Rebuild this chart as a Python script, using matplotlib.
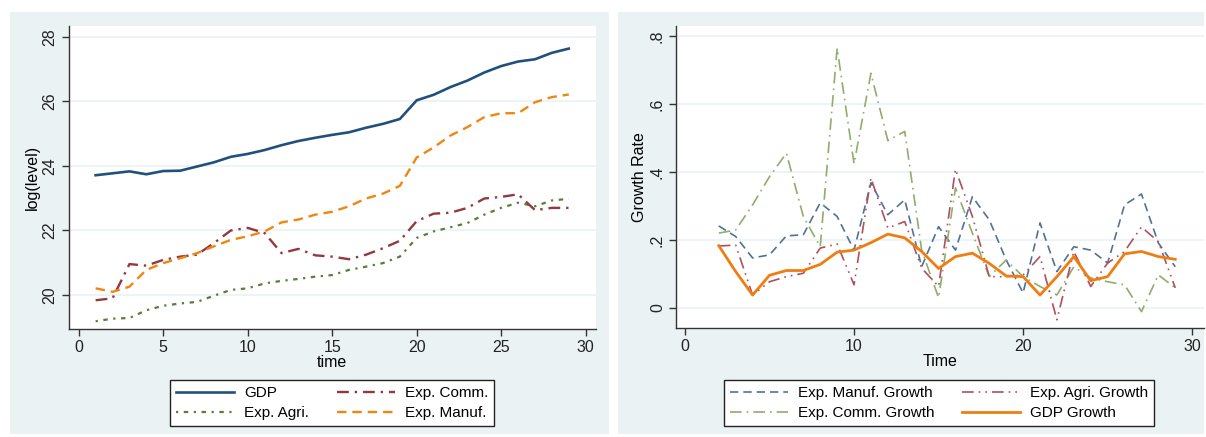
import matplotlib
matplotlib.use("Agg")
import matplotlib.pyplot as plt
from matplotlib.patches import Rectangle

plt.rcParams['font.family'] = ['Liberation Sans', 'DejaVu Sans']

# --- data: levels (left panel) ---
t_lvl = list(range(1, 30))
gdp = [23.71, 23.77, 23.83, 23.74, 23.84, 23.85, 23.98, 24.11, 24.28, 24.37,
       24.49, 24.64, 24.77, 24.87, 24.96, 25.04, 25.18, 25.30, 25.45, 26.03,
       26.20, 26.44, 26.64, 26.89, 27.09, 27.23, 27.30, 27.50, 27.63]
exp_comm = [19.84, 19.90, 20.96, 20.91, 21.09, 21.19, 21.25, 21.61, 22.00, 22.08,
            21.92, 21.30, 21.43, 21.23, 21.19, 21.11, 21.25, 21.45, 21.68, 22.29,
            22.52, 22.55, 22.70, 22.99, 23.04, 23.12, 22.63, 22.70, 22.70]
exp_agri = [19.19, 19.27, 19.29, 19.53, 19.67, 19.74, 19.79, 19.98, 20.16, 20.21,
            20.36, 20.44, 20.50, 20.57, 20.62, 20.78, 20.88, 20.99, 21.19, 21.77,
            21.97, 22.10, 22.23, 22.49, 22.70, 22.86, 22.75, 22.93, 22.98]
exp_manuf = [20.21, 20.10, 20.26, 20.78, 20.99, 21.14, 21.30, 21.51, 21.71, 21.82,
             21.97, 22.25, 22.34, 22.49, 22.58, 22.75, 22.99, 23.14, 23.38, 24.26,
             24.57, 24.94, 25.20, 25.51, 25.63, 25.63, 25.97, 26.13, 26.21]

# --- data: growth rates (right panel) ---
t_gr = list(range(2, 30))
g_manuf = [0.241, 0.210, 0.147, 0.156, 0.212, 0.215, 0.309, 0.269, 0.170, 0.368,
           0.274, 0.318, 0.121, 0.239, 0.170, 0.327, 0.259, 0.141, 0.044, 0.250,
           0.107, 0.180, 0.170, 0.132, 0.303, 0.335, 0.191, 0.121]
g_agri = [0.182, 0.185, 0.038, 0.077, 0.092, 0.102, 0.176, 0.188, 0.068, 0.382,
          0.235, 0.254, 0.117, 0.063, 0.408, 0.269, 0.092, 0.092, 0.097, 0.151,
          -0.035, 0.166, 0.063, 0.132, 0.166, 0.238, 0.195, 0.059]
g_comm = [0.220, 0.229, 0.303, 0.386, 0.455, 0.269, 0.180, 0.764, 0.424, 0.690,
          0.492, 0.519, 0.170, 0.030, 0.353, 0.220, 0.092, 0.141, 0.092, 0.063,
          0.038, 0.121, 0.088, 0.077, 0.068, -0.011, 0.097, 0.059]
g_gdp = [0.183, 0.107, 0.038, 0.096, 0.110, 0.110, 0.128, 0.164, 0.170, 0.192,
         0.217, 0.206, 0.166, 0.116, 0.151, 0.161, 0.131, 0.094, 0.092, 0.038,
         0.092, 0.151, 0.080, 0.092, 0.159, 0.166, 0.151, 0.143]

lvl_yticks = [20, 22, 24, 26, 28]
gr_yticks = [0, 0.2, 0.4, 0.6, 0.8]
gr_ylabels = ["0", ".2", ".4", ".6", ".8"]

W, H = 1206, 437
BG = "#eaf2f3"
fig = plt.figure(figsize=(W / 100, H / 100), dpi=100)
fig.patch.set_facecolor("white")


def px_rect(x0, y0, x1, y1):
    # pixel box (top-left origin) -> figure fraction [l, b, w, h]
    return [x0 / W, (H - y1) / H, (x1 - x0) / W, (y1 - y0) / H]


# light panel backgrounds behind each graph
for box in [(10, 12, 609, 434), (618, 12, 1204, 434)]:
    l, b, w, h = px_rect(*box)
    fig.add_artist(Rectangle((l, b), w, h, transform=fig.transFigure,
                             facecolor=BG, edgecolor="none", zorder=-10))


def style_axes(ax):
    ax.set_facecolor("white")
    for s in ["top", "right"]:
        ax.spines[s].set_visible(False)
    for s in ["left", "bottom"]:
        ax.spines[s].set_color("#333333")
        ax.spines[s].set_linewidth(1.0)
    ax.tick_params(direction="out", length=5, width=1, color="#333333",
                   labelsize=11.5, labelcolor="#222222", pad=3)
    ax.tick_params(axis="y", labelrotation=90)
    for lab in ax.get_yticklabels():
        lab.set_va("center")
    ax.grid(axis="y", color=BG, linewidth=1.2)
    ax.set_axisbelow(True)


leg_kw = dict(loc="center", ncol=2, fontsize=11, frameon=True, fancybox=False,
              edgecolor="#222222", framealpha=1, handlelength=3.8,
              handletextpad=0.65, columnspacing=1.8, borderpad=0.4,
              labelspacing=0.4, borderaxespad=0)

# ---- left panel ----
ax1 = fig.add_axes(px_rect(68.6, 26, 595.5, 329))
ax1.plot(t_lvl, gdp, color="#22507c", lw=1.9, label="GDP")
ax1.plot(t_lvl, exp_agri, color="#5b7d35", lw=1.6, ls=(0, (1, 2.5, 2, 2.5)), label="Exp. Agri.")
ax1.plot(t_lvl, exp_comm, color="#93383f", lw=1.7, ls=(0, (5, 2.5, 1, 2.5)), label="Exp. Comm.")
ax1.plot(t_lvl, exp_manuf, color="#f0860f", lw=1.7, ls=(0, (4, 2.5)), label="Exp. Manuf.")
ax1.set_xlim(-0.6, 30.58)
ax1.set_ylim(18.95, 28.33)
ax1.set_xticks([0, 5, 10, 15, 20, 25, 30])
ax1.set_yticks(lvl_yticks)
style_axes(ax1)
ax1.set_xlabel("time", fontsize=11.5, labelpad=0)
ax1.set_ylabel("log(level)", fontsize=11.5, labelpad=2)
fig.legend(*ax1.get_legend_handles_labels(),
           bbox_to_anchor=(332 / W, (H - 403) / H), **leg_kw)

# ---- right panel ----
ax2 = fig.add_axes(px_rect(676, 26, 1204, 328))
ax2.plot(t_gr, g_manuf, color="#4f7298", lw=1.2, ls=(0, (5, 3)), label="Exp. Manuf. Growth")
ax2.plot(t_gr, g_comm, color="#8fad6c", lw=1.2, ls=(0, (7, 3, 1, 3)), label="Exp. Comm. Growth")
ax2.plot(t_gr, g_agri, color="#b0505c", lw=1.2, ls=(0, (7, 3, 1, 3, 1, 3)), label="Exp. Agri. Growth")
ax2.plot(t_gr, g_gdp, color="#ef7d10", lw=2.0, label="GDP Growth")
ax2.set_xlim(-0.53, 30.7)
ax2.set_ylim(-0.059, 0.829)
ax2.set_xticks([0, 10, 20, 30])
ax2.set_yticks(gr_yticks)
ax2.set_yticklabels(gr_ylabels)
style_axes(ax2)
ax2.set_xlabel("Time", fontsize=11.5, labelpad=0)
ax2.set_ylabel("Growth Rate", fontsize=11.5, labelpad=2)
fig.legend(*ax2.get_legend_handles_labels(),
           bbox_to_anchor=(939 / W, (H - 403) / H), **leg_kw)

fig.savefig("out.png", dpi=100, facecolor=fig.get_facecolor())
